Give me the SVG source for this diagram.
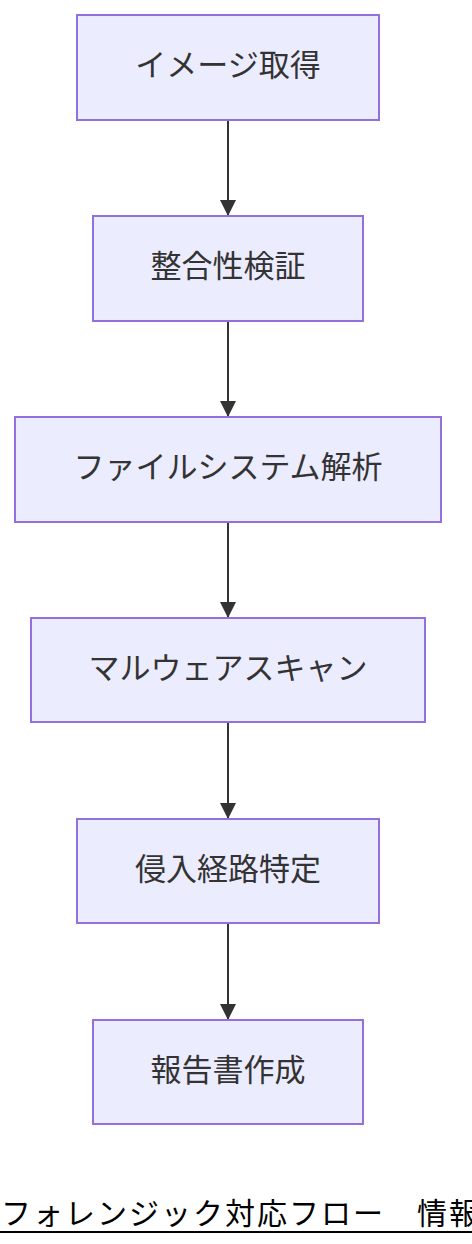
<svg xmlns="http://www.w3.org/2000/svg" width="472" height="1244" viewBox="0 0 472 1244">
<style>
.node rect{fill:#ECECFF;stroke:#9370DB;stroke-width:2}
.node text{font-family:"Noto Sans CJK JP","Noto Sans",sans-serif;font-size:31px;fill:#333;text-anchor:middle;dominant-baseline:central}
.edge{stroke:#333;stroke-width:2;fill:none}
.title{font-family:"Noto Sans CJK JP","Noto Sans",sans-serif;font-size:30px;fill:#000;letter-spacing:2px}
</style>
<defs>
<marker id="ah" viewBox="0 0 16 16" refX="16" refY="8" markerWidth="16" markerHeight="16" markerUnits="userSpaceOnUse" orient="auto">
<path d="M0,0 L16,8 L0,16 z" fill="#333"/>
</marker>
</defs>
<g id="connectors">
<path class="edge" d="M228,120 L228,216" marker-end="url(#ah)"/>
<path class="edge" d="M228,321 L228,417" marker-end="url(#ah)"/>
<path class="edge" d="M228,522 L228,618" marker-end="url(#ah)"/>
<path class="edge" d="M228,722 L228,819" marker-end="url(#ah)"/>
<path class="edge" d="M228,923 L228,1020" marker-end="url(#ah)"/>
</g>
<g id="n1" class="node"><rect x="77" y="15" width="302" height="105"/><text x="228" y="62">イメージ取得</text></g>
<g id="n2" class="node"><rect x="93" y="216" width="270" height="105"/><text x="228" y="263">整合性検証</text></g>
<g id="n3" class="node"><rect x="15" y="417" width="426" height="105"/><text x="228" y="464">ファイルシステム解析</text></g>
<g id="n4" class="node"><rect x="31" y="618" width="394" height="104"/><text x="228" y="665">マルウェアスキャン</text></g>
<g id="n5" class="node"><rect x="77" y="819" width="302" height="104"/><text x="228" y="866">侵入経路特定</text></g>
<g id="n6" class="node"><rect x="93" y="1020" width="270" height="104"/><text x="228" y="1067">報告書作成</text></g>
<g id="title">
<text class="title" x="1" y="1224">フォレンジック対応フロー　情報</text>
<line x1="0" y1="1232" x2="472" y2="1232" stroke="#000" stroke-width="2"/>
</g>
</svg>
